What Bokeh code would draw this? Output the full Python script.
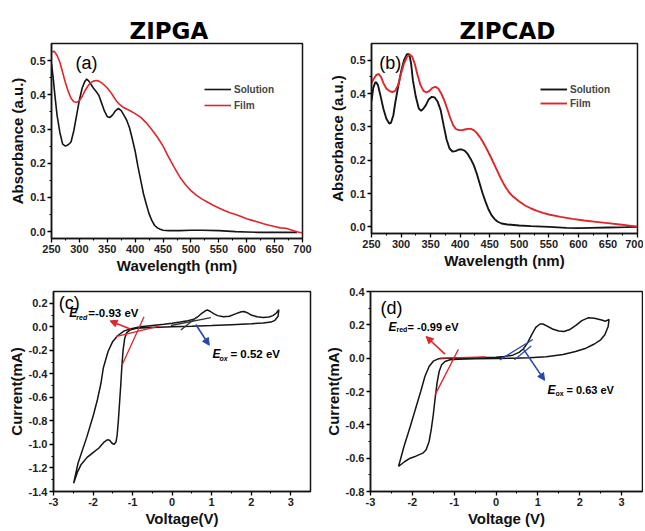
from bokeh.plotting import figure
from bokeh.layouts import column, row
from bokeh.models import (Legend, LegendItem, Label, Arrow, NormalHead,
                          FixedTicker, NumeralTickFormatter, Range1d)
from bokeh.embed import file_html
from bokeh.resources import INLINE

FONT = "Liberation Sans"
BLACK = "#151515"
RED = "#e0262a"
BLUE = "#2447b0"

# ---------------- data ----------------
# (a) ZIPGA absorption
a_sol_wl = [250, 253, 256, 260, 265, 270, 275, 280, 285, 290, 295, 300, 305, 310, 313, 317,
            321, 325, 330, 335, 340, 345, 350, 355, 360, 365, 370, 375, 380, 385, 390, 395,
            400, 405, 410, 415, 420, 425, 430, 435, 440, 445, 450, 460, 480, 500, 520, 550,
            580, 600, 620, 650, 690]
a_sol_abs = [0.49, 0.45, 0.40, 0.34, 0.29, 0.256, 0.25, 0.254, 0.262, 0.295, 0.34, 0.385,
             0.42, 0.44, 0.446, 0.44, 0.43, 0.42, 0.41, 0.398, 0.375, 0.352, 0.336, 0.334,
             0.342, 0.354, 0.36, 0.354, 0.34, 0.325, 0.303, 0.27, 0.235, 0.19, 0.15, 0.11,
             0.08, 0.052, 0.032, 0.018, 0.011, 0.007, 0.004, 0.003, 0.003, 0.004, 0.004,
             0.003, 0.0, -0.001, -0.002, -0.002, -0.002]
a_film_wl = [250, 255, 260, 265, 270, 275, 280, 285, 290, 295, 300, 305, 310, 315, 320, 325,
             330, 335, 340, 345, 350, 355, 360, 365, 370, 375, 380, 390, 400, 410, 420, 430,
             440, 450, 460, 470, 480, 490, 500, 510, 520, 530, 540, 550, 560, 570, 580, 590,
             600, 610, 620, 630, 640, 650, 660, 670, 680, 690, 700]
a_film_abs = [0.526, 0.527, 0.515, 0.495, 0.465, 0.435, 0.41, 0.39, 0.38, 0.378, 0.383,
              0.395, 0.412, 0.425, 0.435, 0.44, 0.442, 0.44, 0.435, 0.428, 0.42, 0.41,
              0.398, 0.385, 0.375, 0.368, 0.362, 0.354, 0.345, 0.334, 0.318, 0.298, 0.276,
              0.25, 0.218, 0.188, 0.16, 0.138, 0.12, 0.106, 0.095, 0.086, 0.077, 0.069,
              0.062, 0.055, 0.05, 0.044, 0.038, 0.033, 0.028, 0.023, 0.019, 0.015, 0.011,
              0.01, 0.005, 0.0, -0.004]

# (b) ZIPCAD absorption
b_sol_wl = [250, 253, 256, 258, 261, 265, 270, 275, 280, 283, 287, 290, 295, 300, 305, 310,
            314, 317, 320, 325, 330, 334, 338, 342, 347, 352, 357, 362, 367, 372, 377, 382,
            387, 392, 398, 403, 408, 413, 418, 423, 428, 433, 438, 443, 448, 453, 458, 463,
            470, 480, 500, 520, 550, 580, 600, 620, 650, 680, 700]
b_sol_abs = [0.377, 0.417, 0.432, 0.434, 0.425, 0.395, 0.355, 0.325, 0.31, 0.312, 0.335,
             0.37, 0.42, 0.465, 0.5, 0.518, 0.518, 0.49, 0.44, 0.39, 0.355, 0.348, 0.355,
             0.365, 0.383, 0.39, 0.388, 0.375, 0.35, 0.305, 0.262, 0.235, 0.226, 0.227,
             0.232, 0.232, 0.228, 0.218, 0.203, 0.185, 0.16, 0.13, 0.1, 0.075, 0.052, 0.035,
             0.024, 0.016, 0.01, 0.007, 0.004, 0.002, 0.0, -0.003, -0.004, -0.003, -0.002,
             -0.001, 0.0]
b_film_wl = [250, 254, 258, 262, 266, 270, 275, 280, 285, 290, 295, 300, 305, 310, 315, 319,
             323, 328, 333, 338, 343, 348, 353, 358, 363, 368, 373, 378, 383, 388, 393, 398,
             403, 408, 413, 418, 423, 428, 433, 438, 443, 448, 453, 458, 463, 468, 473, 478,
             483, 490, 500, 510, 520, 530, 540, 550, 570, 590, 610, 630, 650, 670, 690, 700]
b_film_abs = [0.432, 0.445, 0.455, 0.459, 0.45, 0.432, 0.415, 0.408, 0.404, 0.408, 0.425,
              0.46, 0.49, 0.51, 0.516, 0.51, 0.49, 0.455, 0.425, 0.408, 0.403, 0.408, 0.417,
              0.42, 0.415, 0.4, 0.38, 0.355, 0.328, 0.305, 0.293, 0.29, 0.29, 0.292, 0.294,
              0.294, 0.29, 0.282, 0.27, 0.256, 0.24, 0.223, 0.205, 0.186, 0.167, 0.148,
              0.131, 0.116, 0.103, 0.09, 0.076, 0.064, 0.055, 0.048, 0.042, 0.037, 0.03,
              0.024, 0.019, 0.015, 0.011, 0.007, 0.003, 0.001]

# (c) ZIPGA cyclic voltammogram (one closed loop)
c_volt = [-2.49, -2.38, -2.16, -1.99, -1.89, -1.80, -1.74, -1.62, -1.51, -1.38, -1.21, -1.04,
          -0.8, -0.5, -0.2, 0.0, 0.2, 0.4, 0.55, 0.65, 0.75, 0.85, 0.9, 0.97, 1.05, 1.15,
          1.3, 1.45, 1.6, 1.75, 1.82, 1.9, 2.0, 2.15, 2.3, 2.45, 2.55, 2.63, 2.7,
          2.68, 2.6, 2.5, 2.3, 2.0, 1.5, 1.0, 0.5, 0.0, -0.5, -0.9, -1.05, -1.15, -1.2,
          -1.24, -1.27, -1.3, -1.33, -1.36, -1.39, -1.42, -1.47, -1.52, -1.58, -1.64,
          -1.72, -1.85, -2.0, -2.15, -2.3, -2.4, -2.49]
c_curr = [-1.33, -1.16, -0.94, -0.75, -0.62, -0.48, -0.35, -0.21, -0.13, -0.076, -0.035,
          -0.016, 0.0, 0.012, 0.022, 0.03, 0.04, 0.052, 0.065, 0.085, 0.115, 0.138, 0.142,
          0.13, 0.112, 0.095, 0.085, 0.09, 0.11, 0.128, 0.13, 0.12, 0.1, 0.085, 0.08,
          0.083, 0.095, 0.115, 0.145,
          0.09, 0.055, 0.04, 0.032, 0.026, 0.018, 0.01, 0.004, 0.0, -0.005, -0.012,
          -0.025, -0.05, -0.1, -0.2, -0.33, -0.5, -0.65, -0.8, -0.92, -0.98, -1.0, -0.99,
          -0.965, -0.96, -0.98, -1.03, -1.07, -1.11, -1.17, -1.24, -1.33]

# (d) ZIPCAD cyclic voltammogram (one closed loop)
d_volt = [-2.33, -2.2, -2.05, -1.92, -1.8, -1.7, -1.6, -1.5, -1.38, -1.2, -0.8, -0.4, 0.0,
          0.2, 0.4, 0.55, 0.65, 0.75, 0.85, 0.95, 1.05, 1.12, 1.2, 1.35, 1.5, 1.62, 1.75,
          1.9, 2.05, 2.2, 2.35, 2.5, 2.62, 2.7,
          2.68, 2.6, 2.5, 2.35, 2.15, 1.9, 1.6, 1.2, 0.8, 0.4, 0.0, -0.5, -0.9, -1.1,
          -1.22, -1.3, -1.36, -1.41, -1.46, -1.5, -1.55, -1.6, -1.67, -1.75, -1.85,
          -1.95, -2.05, -2.18, -2.33]
d_curr = [-0.65, -0.53, -0.41, -0.3, -0.2, -0.11, -0.05, -0.018, -0.004, 0.0, 0.003,
          0.004, 0.006, 0.01, 0.018, 0.035, 0.055, 0.09, 0.14, 0.185, 0.205, 0.205, 0.195,
          0.175, 0.163, 0.16, 0.17, 0.195, 0.225, 0.242, 0.24, 0.23, 0.222, 0.232,
          0.19, 0.14, 0.11, 0.085, 0.06, 0.04, 0.022, 0.008, 0.003, 0.0, -0.002, -0.004,
          -0.006, -0.01, -0.02, -0.04, -0.08, -0.15, -0.25, -0.34, -0.43, -0.5, -0.55,
          -0.57, -0.58, -0.592, -0.6, -0.62, -0.65]

# onset tangent lines and arrows (start x, start y, end x, end y)
c_red_lines = [(-1.42, -0.084, -0.33, 0.005), (-1.26, -0.32, -0.71, 0.086)]
c_ox_lines = [(-0.03, 0.011, 0.98, 0.078), (0.22, -0.027, 0.64, 0.086)]
c_red_arrow = (-1.04, -0.02, -1.57, 0.05)
c_ox_arrow = (0.6, 0.019, 0.94, -0.157)
d_red_lines = [(-1.46, -0.222, -0.9, 0.053), (-1.34, 0.0, -0.25, 0.008)]
d_ox_lines = [(0.09, -0.01, 0.88, 0.112), (0.44, -0.01, 0.84, 0.073)]
d_red_arrow = (-1.22, 0.024, -1.67, 0.13)
d_ox_arrow = (0.66, 0.053, 1.16, -0.133)

# ticks
wl_ticks = [250, 300, 350, 400, 450, 500, 550, 600, 650, 700]
abs_ticks = [0.0, 0.1, 0.2, 0.3, 0.4, 0.5]
volt_ticks = [-3, -2, -1, 0, 1, 2, 3]
cur_c_ticks = [-1.4, -1.2, -1.0, -0.8, -0.6, -0.4, -0.2, 0.0, 0.2]
cur_d_ticks = [-0.8, -0.6, -0.4, -0.2, 0.0, 0.2, 0.4]


def mids(t):
    return [(a + b) / 2 for a, b in zip(t[:-1], t[1:])]


def make(xr, yr, fw, fh, bl, br, bt, bb, title=None, toff=0):
    p = figure(x_range=Range1d(*xr), y_range=Range1d(*yr), frame_width=fw, frame_height=fh,
               min_border_left=bl, min_border_right=br, min_border_top=bt,
               min_border_bottom=bb, output_backend="svg", toolbar_location=None,
               title=title)
    p.grid.visible = False
    p.outline_line_color = BLACK
    p.outline_line_width = 1.5
    p.outline_line_alpha = 1
    if title:
        p.title.align = "left"
        p.title.offset = toff
        p.title.text_font = "DejaVu Sans"
        p.title.text_font_style = "bold"
        p.title.text_font_size = "23px"
        p.title.text_color = "black"
        p.title.standoff = 0
    return p


def style_axes(p, xt, yt, xfmt, yfmt, xlabel, ylabel):
    p.xaxis.ticker = FixedTicker(ticks=xt, minor_ticks=mids(xt))
    p.yaxis.ticker = FixedTicker(ticks=yt, minor_ticks=mids(yt))
    p.xaxis.formatter = NumeralTickFormatter(format=xfmt)
    p.yaxis.formatter = NumeralTickFormatter(format=yfmt)
    p.xaxis.axis_label = xlabel
    p.yaxis.axis_label = ylabel
    for ax in (p.xaxis[0], p.yaxis[0]):
        ax.axis_line_width = 1.5
        ax.axis_line_color = BLACK
        ax.major_tick_in = 0
        ax.major_tick_out = 4
        ax.minor_tick_in = 0
        ax.minor_tick_out = 2
        ax.major_tick_line_width = 1.3
        ax.minor_tick_line_width = 1
        ax.major_label_text_font = FONT
        ax.major_label_text_font_style = "bold"
        ax.major_label_text_font_size = "11px"
        ax.major_label_text_color = "#222222"
        ax.axis_label_text_font = FONT
        ax.axis_label_text_font_style = "bold"
        ax.axis_label_text_font_size = "15px"
        ax.axis_label_text_color = "#111111"
        ax.major_label_standoff = 2
        ax.axis_label_standoff = 1


def legend(p, r1, r2, x, y, gh):
    lg = Legend(items=[LegendItem(label="Solution", renderers=[r1]),
                       LegendItem(label="Film", renderers=[r2])],
                location=(x, y), border_line_color=None, background_fill_alpha=0,
                label_text_font=FONT, label_text_font_style="bold",
                label_text_font_size="10px", glyph_width=27, glyph_height=gh,
                label_height=gh, label_standoff=3, spacing=2, padding=0, margin=0)
    p.add_layout(lg)


def lbl(p, x, y, text, size, style="normal", xo=0, yo=0, color="black"):
    p.add_layout(Label(x=x, y=y, text=text, x_offset=xo, y_offset=yo,
                       text_font=FONT, text_font_size=size, text_font_style=style,
                       text_color=color, text_baseline="middle", text_align="left"))


def lines(p, segs, color):
    p.segment(x0=[s[0] for s in segs], y0=[s[1] for s in segs],
              x1=[s[2] for s in segs], y1=[s[3] for s in segs],
              line_color=color, line_width=1.3)


def arrow(p, a, color):
    p.add_layout(Arrow(end=NormalHead(size=7, fill_color=color, line_color=color),
                       x_start=a[0], y_start=a[1], x_end=a[2], y_end=a[3],
                       line_color=color, line_width=1.6))


# ---------- (a) ----------
pa = make((250, 700), (-0.02, 0.55), 251, 195, 51, 18, 43, 38, title="ZIPGA", toff=78)
style_axes(pa, wl_ticks, abs_ticks, "0", "0.0", "Wavelength (nm)", "Absorbance (a.u.)")
ra1 = pa.line(a_sol_wl, a_sol_abs, line_color=BLACK, line_width=1.6)
ra2 = pa.line(a_film_wl, a_film_abs, line_color=RED, line_width=1.6)
legend(pa, ra1, ra2, 153, 126, 14)
lbl(pa, 293, 0.494, "(a)", "18px")

# ---------- (b) ----------
pb = make((250, 700), (-0.02, 0.55), 266, 190, 51, 6, 43, 43, title="ZIPCAD", toff=88)
style_axes(pb, wl_ticks, abs_ticks, "0", "0.0", "Wavelength (nm)", "Absorbance (a.u.)")
rb1 = pb.line(b_sol_wl, b_sol_abs, line_color=BLACK, line_width=1.9)
rb2 = pb.line(b_film_wl, b_film_abs, line_color=RED, line_width=1.9)
legend(pb, rb1, rb2, 169, 124, 12)
lbl(pb, 263, 0.491, "(b)", "18px")

# ---------- (c) ----------
pc = make((-3, 3.5), (-1.4, 0.3), 257, 200, 53, 10, 15, 38)
style_axes(pc, volt_ticks, cur_c_ticks, "0", "0.0", "Voltage(V)", "Current(mA)")
pc.line(c_volt, c_curr, line_color=BLACK, line_width=1.5)
lines(pc, c_red_lines, RED)
lines(pc, c_ox_lines, "#333333")
arrow(pc, c_red_arrow, RED)
arrow(pc, c_ox_arrow, BLUE)
lbl(pc, -2.87, 0.2, "(c)", "18px")
lbl(pc, -2.6, 0.117, "E", "12px", "bold italic")
lbl(pc, -2.6, 0.117, "red", "7px", "bold italic", xo=7, yo=-4)
lbl(pc, -2.6, 0.117, "=-0.93 eV", "11.5px", "bold", xo=19)
lbl(pc, 1.02, -0.235, "E", "12px", "bold italic")
lbl(pc, 1.02, -0.235, "ox", "7px", "bold italic", xo=7, yo=-4)
lbl(pc, 1.02, -0.235, "= 0.52 eV", "11.5px", "bold", xo=18)

# ---------- (d) ----------
pd = make((-3, 3.5), (-0.8, 0.4), 272, 200, 50, 1, 15, 38)
style_axes(pd, volt_ticks, cur_d_ticks, "0", "0.0", "Voltage (V)", "Current(mA)")
pd.line(d_volt, d_curr, line_color=BLACK, line_width=1.5)
lines(pd, d_red_lines, RED)
lines(pd, d_ox_lines, BLUE)
arrow(pd, d_red_arrow, RED)
arrow(pd, d_ox_arrow, BLUE)
lbl(pd, -2.76, 0.3, "(d)", "18px")
lbl(pd, -2.57, 0.19, "E", "12px", "bold italic")
lbl(pd, -2.57, 0.19, "red", "7px", "bold", xo=8, yo=-3)
lbl(pd, -2.57, 0.19, "= -0.99 eV", "11px", "bold", xo=19)
lbl(pd, 1.23, -0.192, "E", "12px", "bold italic")
lbl(pd, 1.23, -0.192, "ox", "7px", "bold", xo=8, yo=-3)
lbl(pd, 1.23, -0.192, "= 0.63 eV", "11px", "bold", xo=19)

layout = column(row(pa, pb), row(pc, pd))
open("out.html", "w").write(file_html(layout, INLINE))
